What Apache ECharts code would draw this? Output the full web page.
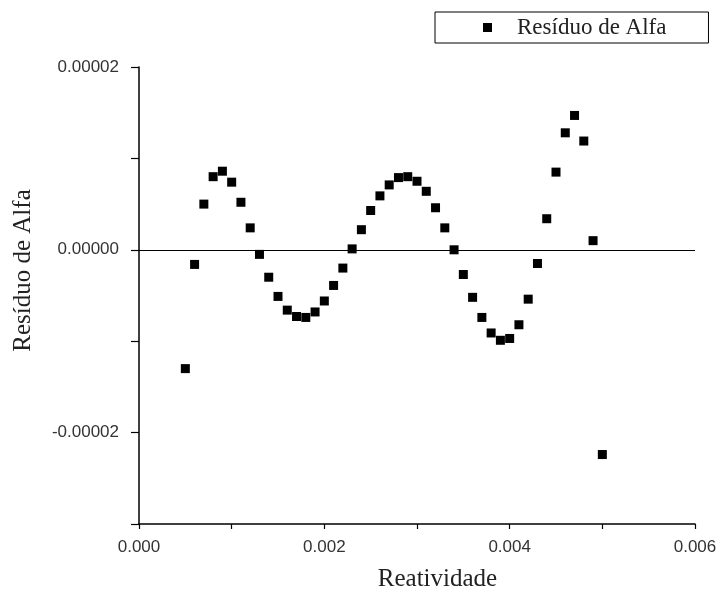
<!DOCTYPE html>
<html>
<head>
<meta charset="utf-8">
<script src="https://cdn.jsdelivr.net/npm/echarts@6/dist/echarts.min.js"></script>
<style>
html,body{margin:0;padding:0;background:#fff;overflow:hidden;width:718px;height:590px;}
#chart{width:718px;height:590px;position:absolute;left:0;top:0;}
</style>
</head>
<body>
<div id="chart"></div>
<script>
var seriesName = 'Resíduo de Alfa';
var xName = 'Reatividade';
var yName = 'Resíduo de Alfa';

var reatividade = [
  0.0005, 0.0006, 0.0007, 0.0008, 0.0009, 0.0010, 0.0011, 0.0012, 0.0013, 0.0014,
  0.0015, 0.0016, 0.0017, 0.0018, 0.0019, 0.0020, 0.0021, 0.0022, 0.0023, 0.0024,
  0.0025, 0.0026, 0.0027, 0.0028, 0.0029, 0.0030, 0.0031, 0.0032, 0.0033, 0.0034,
  0.0035, 0.0036, 0.0037, 0.0038, 0.0039, 0.0040, 0.0041, 0.0042, 0.0043, 0.0044,
  0.0045, 0.0046, 0.0047, 0.0048, 0.0049, 0.0050
];
var residuo = [
  -1.30e-5, -0.16e-5, 0.50e-5, 0.80e-5, 0.86e-5, 0.74e-5, 0.52e-5, 0.24e-5, -0.05e-5, -0.30e-5,
  -0.51e-5, -0.66e-5, -0.73e-5, -0.74e-5, -0.68e-5, -0.56e-5, -0.39e-5, -0.20e-5, 0.01e-5, 0.22e-5,
  0.43e-5, 0.59e-5, 0.71e-5, 0.79e-5, 0.80e-5, 0.75e-5, 0.64e-5, 0.46e-5, 0.24e-5, 0.00e-5,
  -0.27e-5, -0.52e-5, -0.74e-5, -0.91e-5, -0.99e-5, -0.97e-5, -0.82e-5, -0.54e-5, -0.15e-5, 0.34e-5,
  0.85e-5, 1.28e-5, 1.47e-5, 1.19e-5, 0.10e-5, -2.24e-5
];
var xLabelValues = [0.000, 0.002, 0.004, 0.006];
var yLabelValues = [-0.00002, 0.00000, 0.00002];

var points = reatividade.map(function (x, i) { return [x, residuo[i]]; });

function isLabelled(v, list, tol) {
  for (var i = 0; i < list.length; i++) { if (Math.abs(v - list[i]) < tol) return true; }
  return false;
}

var chart = echarts.init(document.getElementById('chart'), null, {renderer: 'canvas', width: 718, height: 590});
chart.setOption({
  backgroundColor: '#ffffff',
  animation: false,
  grid: {left: 139, right: 23, top: 67, bottom: 66, containLabel: false, outerBoundsMode: 'none'},
  legend: {
    data: [seriesName],
    left: 435, top: 12,
    padding: [4, 42, 4, 48],
    borderColor: '#000', borderWidth: 1,
    itemWidth: 9, itemHeight: 9,
    icon: 'rect',
    itemStyle: {color: '#000', opacity: 1},
    textStyle: {fontFamily: 'Liberation Serif', fontSize: 23, color: '#222', padding: [0, 0, 0, 20]}
  },
  xAxis: {
    type: 'value', min: 0, max: 0.006, interval: 0.001,
    name: xName, nameLocation: 'middle', nameGap: 43,
    nameTextStyle: {fontFamily: 'Liberation Serif', fontSize: 25, color: '#222', padding: [0, 0, 0, 41]},
    axisLine: {show: true, onZero: false, lineStyle: {color: '#000', width: 1.5}},
    axisTick: {show: true, inside: false, length: 5, lineStyle: {color: '#000', width: 1.2}},
    splitLine: {show: false},
    axisLabel: {
      margin: 15, fontFamily: 'Liberation Sans', fontSize: 17, color: '#333',
      formatter: function (v) { return isLabelled(v, xLabelValues, 1e-7) ? v.toFixed(3) : ''; }
    }
  },
  yAxis: {
    type: 'value', min: -0.00003, max: 0.00002, interval: 0.00001,
    name: yName, nameLocation: 'middle', nameGap: 103,
    nameTextStyle: {fontFamily: 'Liberation Serif', fontSize: 25, color: '#222', padding: [0, 0, 0, 50]},
    axisLine: {show: true, onZero: false, lineStyle: {color: '#000', width: 1.5}},
    axisTick: {show: true, inside: false, length: 8, lineStyle: {color: '#000', width: 1.2}},
    splitLine: {show: false},
    axisLabel: {
      margin: 20, fontFamily: 'Liberation Sans', fontSize: 17, color: '#333',
      formatter: function (v) { return isLabelled(v, yLabelValues, 1e-9) ? v.toFixed(5) : ''; }
    }
  },
  series: [{
    name: seriesName,
    type: 'scatter',
    symbol: 'rect',
    symbolSize: 9,
    itemStyle: {color: '#000', opacity: 1},
    data: points,
    markLine: {
      silent: true, symbol: ['none', 'none'],
      label: {show: false},
      lineStyle: {color: '#000', width: 1.2, type: 'solid'},
      data: [{yAxis: 0}]
    }
  }]
});
</script>
</body>
</html>
